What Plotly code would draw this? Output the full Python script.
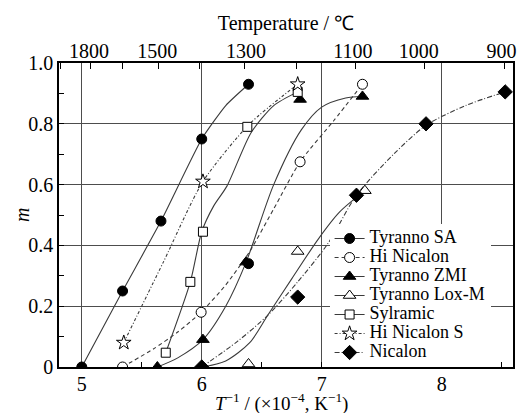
import plotly.graph_objects as go

# ---------------- data ----------------
series_names = ["Tyranno SA", "Hi Nicalon", "Tyranno ZMI", "Tyranno Lox-M",
                "Sylramic", "Hi Nicalon S", "Nicalon"]

# measured points
sa_x = [5.00, 5.34, 5.66, 6.00, 6.39, 6.39]
sa_y = [0.00, 0.25, 0.48, 0.75, 0.93, 0.34]
hin_x = [5.34, 5.995, 6.82, 7.34]
hin_y = [0.00, 0.18, 0.675, 0.93]
zmi_x = [5.63, 6.01, 6.37, 6.82, 7.34]
zmi_y = [0.00, 0.09, 0.345, 0.88, 0.89]
lox_x = [6.39, 6.80, 7.36]
lox_y = [0.01, 0.38, 0.58]
syl_x = [5.70, 5.905, 6.01, 6.38, 6.80]
syl_y = [0.047, 0.28, 0.445, 0.79, 0.905]
hins_x = [5.35, 6.01, 6.80]
hins_y = [0.08, 0.61, 0.93]
nic_x = [6.00, 6.80, 7.29, 7.87, 8.53]
nic_y = [0.00, 0.23, 0.565, 0.80, 0.905]

# fitted curves
sa_fit_x = [5.00, 5.34, 5.66, 6.00, 6.20, 6.39]
sa_fit_y = [0.00, 0.25, 0.48, 0.75, 0.86, 0.93]
hin_fit_x = [5.34, 5.60, 5.80, 5.995, 6.20, 6.40, 6.60, 6.82, 7.10, 7.34]
hin_fit_y = [0.00, 0.06, 0.115, 0.18, 0.27, 0.38, 0.52, 0.675, 0.81, 0.93]
zmi_fit_x = [5.63, 5.80, 6.01, 6.20, 6.37, 6.60, 6.83, 7.00, 7.20, 7.34]
zmi_fit_y = [0.00, 0.03, 0.09, 0.20, 0.345, 0.60, 0.78, 0.855, 0.885, 0.89]
lox_fit_x = [6.00, 6.20, 6.40, 6.55, 6.75, 6.97, 7.15, 7.36]
lox_fit_y = [0.00, 0.02, 0.08, 0.17, 0.29, 0.42, 0.51, 0.58]
syl_fit_x = [5.70, 5.905, 6.00, 6.10, 6.21, 6.41, 6.60, 6.80]
syl_fit_y = [0.047, 0.28, 0.445, 0.53, 0.595, 0.77, 0.86, 0.905]
hins_fit_x = [5.35, 5.68, 6.01, 6.40, 6.80]
hins_fit_y = [0.08, 0.345, 0.61, 0.80, 0.93]
nic_fit_x = [6.00, 6.30, 6.55, 6.80, 7.05, 7.29, 7.60, 7.87, 8.20, 8.53]
nic_fit_y = [0.00, 0.085, 0.17, 0.28, 0.405, 0.565, 0.70, 0.795, 0.86, 0.905]

# axis ticks
x_ticks = [5, 6, 7, 8]
x_minor = [5.5, 6.5, 7.5, 8.5]
y_ticks = [0, 0.2, 0.4, 0.6, 0.8, 1.0]
y_ticktext = ["0", "0.2", "0.4", "0.6", "0.8", "1.0"]
temp_ticks = [1800, 1700, 1600, 1500, 1400, 1300, 1200, 1100, 1000, 900]
top_labels = ["1800", "1500", "1300", "1100", "1000", "900"]
top_label_pos = [5.06, 5.63, 6.37, 7.26, 7.81, 8.50]

x_title = "<i>T</i><sup>−1</sup> / (×10<sup>−4</sup>, K<sup>−1</sup>)"
y_title = "<i>m</i>"
top_title = "Temperature / ℃"

# ---------------- styling ----------------
FONT = "Liberation Serif, Times New Roman, serif"
LINE_COL = "#3a3a3a"
XR = [4.81, 8.595]

styles = [
    dict(symbol="circle", fill="black", size=10, dash="solid", smooth=0.5),
    dict(symbol="circle", fill="white", size=10, dash="4px,3px", smooth=0.6),
    dict(symbol="triangle-up", fill="black", size=11, dash="solid", smooth=0.8),
    dict(symbol="triangle-up", fill="white", size=11, dash="solid", smooth=0.8),
    dict(symbol="square", fill="white", size=9, dash="solid", smooth=0.7),
    dict(symbol="star", fill="white", size=11, dash="3px,2px,1px,2px", smooth=0.7),
    dict(symbol="diamond", fill="black", size=11, dash="5px,2px,1px,2px", smooth=0.8),
]
points = [(sa_x, sa_y), (hin_x, hin_y), (zmi_x, zmi_y), (lox_x, lox_y),
          (syl_x, syl_y), (hins_x, hins_y), (nic_x, nic_y)]
fits = [(sa_fit_x, sa_fit_y), (hin_fit_x, hin_fit_y), (zmi_fit_x, zmi_fit_y),
        (lox_fit_x, lox_fit_y), (syl_fit_x, syl_fit_y), (hins_fit_x, hins_fit_y),
        (nic_fit_x, nic_fit_y)]

fig = go.Figure()

# fitted curves (legend entries; their own markers hidden on the plot)
for name, st, (fx, fy) in zip(series_names, styles, fits):
    fig.add_trace(go.Scatter(
        x=fx, y=fy, mode="lines+markers",
        name=f'<span style="font-size:18px">{name}</span>',
        legendgroup=name,
        line=dict(color=LINE_COL, width=1.1, dash=st["dash"], shape="spline",
                  smoothing=st["smooth"]),
        marker=dict(symbol=st["symbol"], color=st["fill"], size=st["size"],
                    line=dict(color="black", width=1)),
        selectedpoints=[], unselected=dict(marker=dict(opacity=0)),
        hoverinfo="skip",
    ))

# measured points
for name, st, (px, py) in zip(series_names, styles, points):
    fig.add_trace(go.Scatter(
        x=px, y=py, mode="markers", name=name, legendgroup=name, showlegend=False,
        marker=dict(symbol=st["symbol"], color=st["fill"], size=st["size"],
                    line=dict(color="black", width=1)),
    ))

# empty traces to register the top axes
fig.add_trace(go.Scatter(x=[], y=[], xaxis="x2", yaxis="y", showlegend=False, hoverinfo="skip"))
fig.add_trace(go.Scatter(x=[], y=[], xaxis="x3", yaxis="y", showlegend=False, hoverinfo="skip"))

fig.update_layout(
    width=519, height=413,
    margin=dict(l=59, r=6, t=63, b=46),
    paper_bgcolor="white", plot_bgcolor="white",
    font=dict(family=FONT, size=20, color="black"),
    showlegend=True,
    legend=dict(x=0.596, xanchor="left", y=0.0, yanchor="bottom",
                bgcolor="white", borderwidth=0,
                font=dict(family=FONT, size=12, color="black"),
                tracegroupgap=0),
    xaxis=dict(
        range=XR, tickvals=x_ticks, ticks="inside", ticklen=5, tickwidth=1.2,
        tickcolor="black", showgrid=True, gridcolor="#4d4d4d", gridwidth=1.3,
        showline=True, linecolor="black", linewidth=1.5, mirror=True,
        zeroline=False, tickfont=dict(size=20), automargin=False,
        ticklabelstandoff=-2,
        minor=dict(tickvals=x_minor, ticks="inside", ticklen=5, tickcolor="black", showgrid=False),
    ),
    xaxis2=dict(
        range=XR, overlaying="x", side="top", anchor="y",
        tickvals=[1e4 / (t + 273) for t in temp_ticks],
        ticks="inside", ticklen=6, tickwidth=1.2, tickcolor="black",
        showticklabels=False, showgrid=False, showline=False, zeroline=False,
    ),
    xaxis3=dict(
        range=XR, overlaying="x", side="top", anchor="y",
        tickvals=top_label_pos, ticktext=top_labels, ticks="",
        showgrid=False, showline=False, zeroline=False, tickfont=dict(size=20),
        automargin=False,
        title=dict(text=top_title, font=dict(size=20), standoff=4),
    ),
    yaxis=dict(
        range=[0, 1.0], tickvals=y_ticks, ticktext=y_ticktext,
        ticks="inside", ticklen=5, tickwidth=1.2, tickcolor="black",
        showgrid=True, gridcolor="#4d4d4d", gridwidth=1.3,
        showline=True, linecolor="black", linewidth=1.5, mirror=True,
        zeroline=False, tickfont=dict(size=20), automargin=False,
        minor=dict(dtick=0.1, ticks="inside", ticklen=5, tickcolor="black", showgrid=False),
    ),
    annotations=[
        dict(text=x_title, xref="paper", yref="paper", x=0.49, y=-0.117,
             xanchor="center", yanchor="middle", showarrow=False,
             font=dict(family=FONT, size=19, color="black")),
        dict(text=y_title, xref="paper", yref="paper", x=-0.0815, y=0.5,
             xanchor="center", yanchor="middle", showarrow=False, textangle=-90,
             font=dict(family=FONT, size=20, color="black")),
    ],
)

fig.write_html("out.html")
